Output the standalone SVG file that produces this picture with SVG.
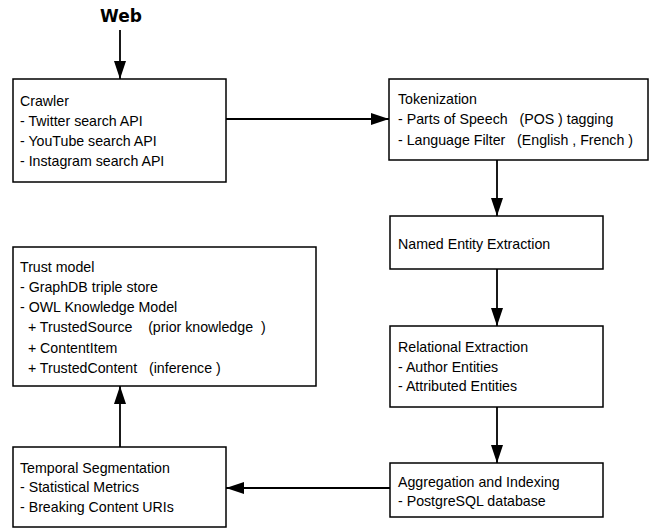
<svg xmlns="http://www.w3.org/2000/svg" width="650" height="529" viewBox="0 0 650 529">
<style>
.box{fill:#fff;stroke:#000;stroke-width:1.5}
.t{font-family:"Liberation Sans",Arial,sans-serif;font-size:14.2px;fill:#000;white-space:pre}
.c{stroke:#000;stroke-width:1.8;fill:none;marker-end:url(#ah)}
</style>
<defs>
<marker id="ah" markerUnits="userSpaceOnUse" markerWidth="18" markerHeight="12" refX="18" refY="6" orient="auto">
<path d="M0,0 L18,6 L0,12 Z" fill="#000"/>
</marker>
</defs>
<rect width="650" height="529" fill="#fff"/>
<text x="121" y="22" text-anchor="middle" style="font-family:'DejaVu Sans',sans-serif;font-weight:bold;font-size:17px">Web</text>
<g id="connectors">
<line class="c" x1="120" y1="30" x2="120" y2="79"/>
<line class="c" x1="226" y1="119" x2="389" y2="119"/>
<line class="c" x1="497" y1="160" x2="497" y2="216"/>
<line class="c" x1="497" y1="269" x2="497" y2="326"/>
<line class="c" x1="497" y1="407" x2="497" y2="463"/>
<line class="c" x1="390" y1="488" x2="226" y2="488"/>
<line class="c" x1="120" y1="447" x2="120" y2="386"/>
</g>
<g id="crawler">
<rect class="box" x="13" y="79" width="213" height="103"/>
<text class="t" x="20" y="106">Crawler</text>
<text class="t" x="20" y="126">- Twitter search API</text>
<text class="t" x="20" y="146">- YouTube search API</text>
<text class="t" x="20" y="166">- Instagram search API</text>
</g>
<g id="tokenization">
<rect class="box" x="389" y="79" width="259" height="81"/>
<text class="t" x="398" y="104">Tokenization</text>
<text class="t" x="398" y="124">- Parts of Speech   (POS ) tagging</text>
<text class="t" x="398" y="145">- Language Filter   (English , French )</text>
</g>
<g id="ner">
<rect class="box" x="390" y="216" width="213" height="53"/>
<text class="t" x="398" y="249">Named Entity Extraction</text>
</g>
<g id="relational">
<rect class="box" x="390" y="326" width="213" height="81"/>
<text class="t" x="398" y="352">Relational Extraction</text>
<text class="t" x="398" y="372">- Author Entities</text>
<text class="t" x="398" y="391">- Attributed Entities</text>
</g>
<g id="aggregation">
<rect class="box" x="390" y="463" width="213" height="54"/>
<text class="t" x="398" y="487">Aggregation and Indexing</text>
<text class="t" x="398" y="506">- PostgreSQL database</text>
</g>
<g id="temporal">
<rect class="box" x="13" y="447" width="213" height="80"/>
<text class="t" x="20" y="473">Temporal Segmentation</text>
<text class="t" x="20" y="492">- Statistical Metrics</text>
<text class="t" x="20" y="512">- Breaking Content URIs</text>
</g>
<g id="trust">
<rect class="box" x="13" y="247" width="303" height="139"/>
<text class="t" x="20" y="272">Trust model</text>
<text class="t" x="20" y="292">- GraphDB triple store</text>
<text class="t" x="20" y="312">- OWL Knowledge Model</text>
<text class="t" x="20" y="332">  + TrustedSource    (prior knowledge  )</text>
<text class="t" x="20" y="353">  + ContentItem</text>
<text class="t" x="20" y="373">  + TrustedContent   (inference )</text>
</g>
</svg>
